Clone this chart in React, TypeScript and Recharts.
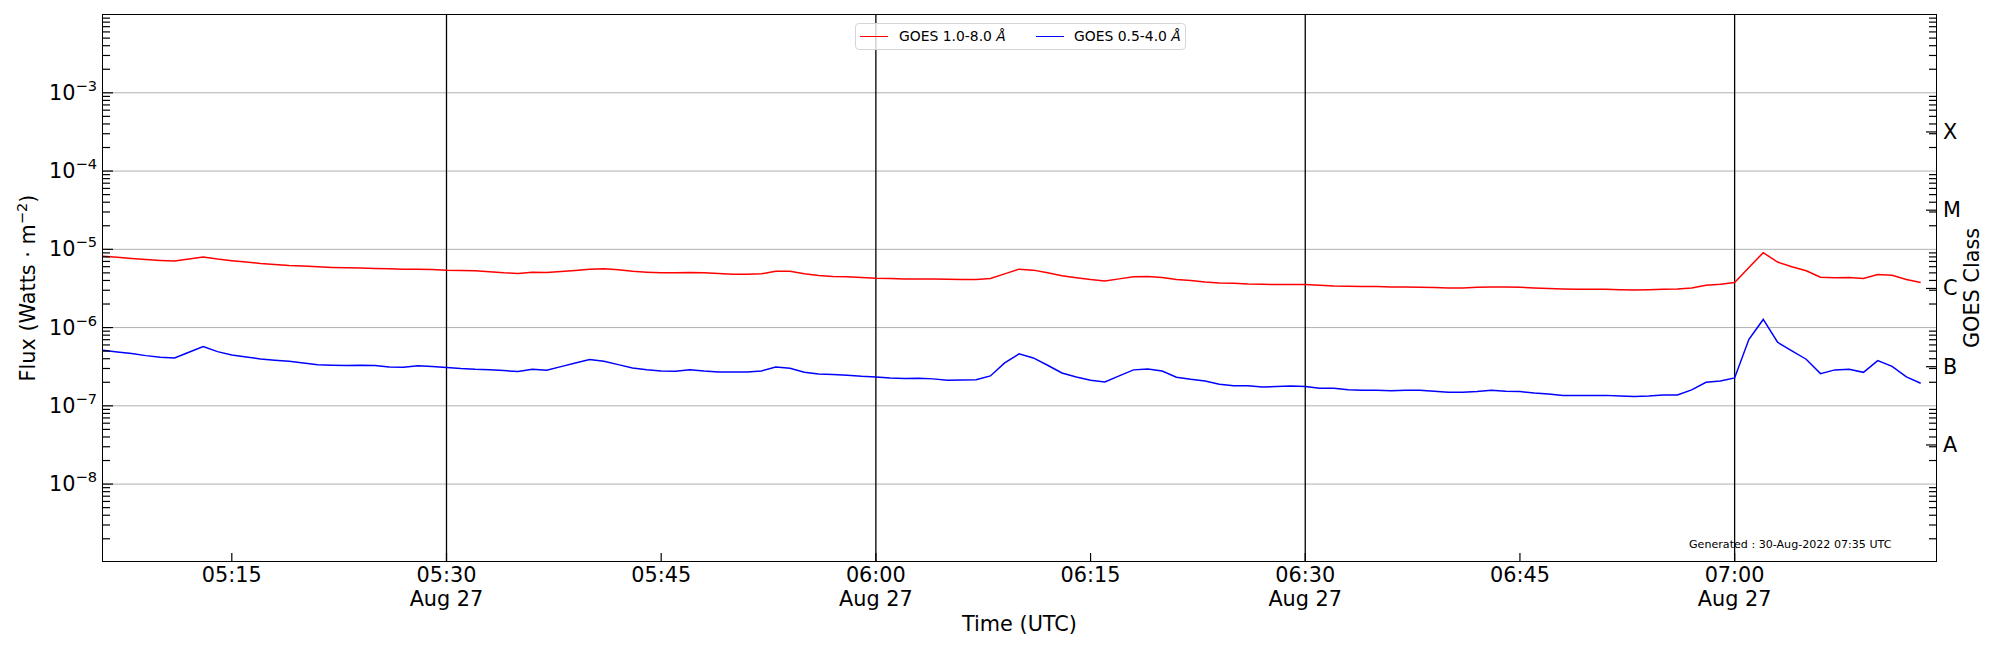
// GoesFluxChart: GOES XRS long/short channel flux on a log axis, with the flare-class scale on the right.
import React from 'react';
import { LineChart, Line, XAxis, YAxis, ReferenceLine } from 'recharts';

// one-minute samples, 05:06 .. 07:13 UTC on Aug 27
const TIMES = [
  '05:06', '05:07', '05:08', '05:09', '05:10', '05:11', '05:12', '05:13', '05:14', '05:15',
  '05:16', '05:17', '05:18', '05:19', '05:20', '05:21', '05:22', '05:23', '05:24', '05:25',
  '05:26', '05:27', '05:28', '05:29', '05:30', '05:31', '05:32', '05:33', '05:34', '05:35',
  '05:36', '05:37', '05:38', '05:39', '05:40', '05:41', '05:42', '05:43', '05:44', '05:45',
  '05:46', '05:47', '05:48', '05:49', '05:50', '05:51', '05:52', '05:53', '05:54', '05:55',
  '05:56', '05:57', '05:58', '05:59', '06:00', '06:01', '06:02', '06:03', '06:04', '06:05',
  '06:06', '06:07', '06:08', '06:09', '06:10', '06:11', '06:12', '06:13', '06:14', '06:15',
  '06:16', '06:17', '06:18', '06:19', '06:20', '06:21', '06:22', '06:23', '06:24', '06:25',
  '06:26', '06:27', '06:28', '06:29', '06:30', '06:31', '06:32', '06:33', '06:34', '06:35',
  '06:36', '06:37', '06:38', '06:39', '06:40', '06:41', '06:42', '06:43', '06:44', '06:45',
  '06:46', '06:47', '06:48', '06:49', '06:50', '06:51', '06:52', '06:53', '06:54', '06:55',
  '06:56', '06:57', '06:58', '06:59', '07:00', '07:01', '07:02', '07:03', '07:04', '07:05',
  '07:06', '07:07', '07:08', '07:09', '07:10', '07:11', '07:12', '07:13',
];

// GOES 1.0-8.0 A, in 1e-6 W m^-2
const LONG_FLUX = [
  8.13, 7.89, 7.66, 7.43, 7.22, 7.08, 7.51, 7.97, 7.51, 7.15,
  6.87, 6.60, 6.41, 6.22, 6.10, 5.98, 5.87, 5.81, 5.75, 5.69,
  5.64, 5.58, 5.58, 5.53, 5.42, 5.37, 5.31, 5.16, 5.01, 4.91,
  5.11, 5.06, 5.21, 5.37, 5.58, 5.64, 5.47, 5.26, 5.11, 5.01,
  5.01, 5.06, 5.01, 4.91, 4.81, 4.81, 4.86, 5.26, 5.26, 4.86,
  4.63, 4.49, 4.45, 4.36, 4.27, 4.23, 4.19, 4.19, 4.19, 4.15,
  4.11, 4.11, 4.23, 4.86, 5.58, 5.42, 5.01, 4.58, 4.32, 4.11,
  3.95, 4.19, 4.45, 4.49, 4.36, 4.11, 3.99, 3.83, 3.72, 3.68,
  3.61, 3.58, 3.54, 3.54, 3.54, 3.47, 3.40, 3.37, 3.34, 3.34,
  3.31, 3.31, 3.27, 3.24, 3.21, 3.21, 3.27, 3.31, 3.31, 3.27,
  3.21, 3.15, 3.12, 3.09, 3.09, 3.09, 3.05, 3.02, 3.05, 3.09,
  3.12, 3.21, 3.47, 3.58, 3.76, 5.87, 9.06, 6.87, 5.98, 5.31,
  4.40, 4.32, 4.36, 4.23, 4.77, 4.67, 4.11, 3.76,
];

// GOES 0.5-4.0 A, in 1e-7 W m^-2
const SHORT_FLUX = [
  5.13, 4.88, 4.65, 4.38, 4.17, 4.09, 4.84, 5.71, 4.93, 4.47,
  4.22, 3.97, 3.82, 3.71, 3.53, 3.36, 3.30, 3.27, 3.30, 3.27,
  3.14, 3.11, 3.24, 3.17, 3.08, 2.99, 2.93, 2.90, 2.82, 2.74,
  2.93, 2.85, 3.17, 3.53, 3.90, 3.71, 3.36, 3.05, 2.90, 2.79,
  2.76, 2.90, 2.79, 2.71, 2.71, 2.71, 2.79, 3.14, 3.02, 2.68,
  2.56, 2.51, 2.46, 2.38, 2.34, 2.27, 2.23, 2.25, 2.21, 2.12,
  2.14, 2.16, 2.41, 3.53, 4.61, 4.09, 3.30, 2.63, 2.34, 2.12,
  2.02, 2.41, 2.88, 2.96, 2.79, 2.32, 2.18, 2.08, 1.89, 1.81,
  1.81, 1.74, 1.76, 1.79, 1.76, 1.68, 1.68, 1.61, 1.58, 1.58,
  1.56, 1.58, 1.58, 1.53, 1.49, 1.49, 1.52, 1.58, 1.53, 1.52,
  1.46, 1.42, 1.36, 1.36, 1.36, 1.36, 1.34, 1.32, 1.34, 1.38,
  1.38, 1.60, 2.00, 2.08, 2.27, 7.09, 12.7, 6.49, 5.03, 3.94,
  2.58, 2.88, 2.93, 2.68, 3.78, 3.20, 2.34, 1.94,
];

const X_TICKS = ['05:15', '05:30', '05:45', '06:00', '06:15', '06:30', '06:45', '07:00'];
const DATE_LABEL = 'Aug 27';
const DAY_LINES = ['05:30', '06:00', '06:30', '07:00'];
const DECADES = [1e-3, 1e-4, 1e-5, 1e-6, 1e-7, 1e-8];
const CLASS_LABELS = ['A', 'B', 'C', 'M', 'X'];
const CLASS_CENTERS = [3.162e-8, 3.162e-7, 3.162e-6, 3.162e-5, 3.162e-4];

const toMin = (hhmm: string) => {
  const [h, m] = hhmm.split(':').map(Number);
  return (h - 5) * 60 + m;
};

const rows = TIMES.map((t, i) => ({
  t: toMin(t),
  long: LONG_FLUX[i] * 1e-6,
  short: SHORT_FLUX[i] * 1e-7,
}));

// geometry of the axes box (px)
const W = 2000, H = 650;
const PLOT_LEFT = 103, PLOT_TOP = 15, PLOT_RIGHT = 1936, PLOT_BOTTOM = 561;
const AXIS_PX = 1; // recharts skips axes of zero size, so each axis gets 1px taken from the margin
const X_DOMAIN: [number, number] = [6, 134.07];
const Y_DOMAIN: [number, number] = [1.04e-9, 9.87e-3];
const FONT = '"DejaVu Sans", sans-serif';
const FS = 20.8; // 15pt at 100 dpi
const FS_SUP = 14.6;

// minor log ticks 2..9 x 10^k inside the domain
const minorTicks: number[] = [];
for (let k = -9; k <= -3; k++) {
  for (let m = 2; m <= 9; m++) {
    const v = m * Math.pow(10, k);
    if (v > Y_DOMAIN[0] && v < Y_DOMAIN[1]) minorTicks.push(v);
  }
}
const isDecade = (v: number) => DECADES.some(d => Math.abs(v - d) / d < 1e-6);

const LeftTick = ({ y, payload }: any) => {
  const v = payload.value as number;
  const major = isDecade(v);
  const exp = Math.round(Math.log10(v));
  return (
    <g>
      <line x1={PLOT_LEFT} x2={PLOT_LEFT + (major ? 10 : 7)} y1={y} y2={y} stroke="#000" strokeWidth={1.2} />
      {major && (
        <text x={PLOT_LEFT - 6} y={y} dy={7} textAnchor="end" fontSize={FS} fontFamily={FONT} fill="#000">
          10<tspan dy={-9} fontSize={FS_SUP}>{'\u2212' + (-exp)}</tspan>
        </text>
      )}
    </g>
  );
};

const RightTick = ({ y, payload }: any) => {
  const v = payload.value as number;
  const ci = CLASS_CENTERS.findIndex(c => Math.abs(v - c) / c < 1e-6);
  return (
    <g>
      <line x1={PLOT_RIGHT} x2={PLOT_RIGHT - (ci >= 0 ? 10 : 7)} y1={y} y2={y} stroke="#000" strokeWidth={1.2} />
      {ci >= 0 && (
        <text x={PLOT_RIGHT + 7} y={y} dy={7} textAnchor="start" fontSize={FS} fontFamily={FONT} fill="#000">
          {CLASS_LABELS[ci]}
        </text>
      )}
    </g>
  );
};

const TimeTick = ({ x, payload }: any) => {
  const label = X_TICKS.find(l => toMin(l) === payload.value) || '';
  const showDate = DAY_LINES.includes(label);
  return (
    <g>
      <line x1={x} x2={x} y1={PLOT_BOTTOM} y2={PLOT_BOTTOM - 8} stroke="#000" strokeWidth={1.2} />
      <text x={x} y={582} textAnchor="middle" fontSize={FS} fontFamily={FONT} fill="#000">{label}</text>
      {showDate && (
        <text x={x} y={606} textAnchor="middle" fontSize={FS} fontFamily={FONT} fill="#000">{DATE_LABEL}</text>
      )}
    </g>
  );
};

const LegendBox: React.FC = () => (
  <div style={{
    position: 'absolute', left: 855, top: 23, width: 331, height: 27, boxSizing: 'border-box',
    border: '1px solid #d6d6d6', borderRadius: 4, background: 'rgba(255,255,255,0.8)',
    fontFamily: FONT, fontSize: 13.9, color: '#000',
  }}>
    <span style={{ position: 'absolute', left: 4, top: 12, width: 28, height: 0, borderTop: '1.5px solid #ff0000' }} />
    <span style={{ position: 'absolute', left: 43, top: 4, lineHeight: '17px', whiteSpace: 'nowrap' }}>GOES 1.0-8.0 <i>Å</i></span>
    <span style={{ position: 'absolute', left: 180, top: 12, width: 28, height: 0, borderTop: '1.5px solid #0000ff' }} />
    <span style={{ position: 'absolute', left: 218, top: 4, lineHeight: '17px', whiteSpace: 'nowrap' }}>GOES 0.5-4.0 <i>Å</i></span>
  </div>
);

export default function App() {
  return (
    <div style={{ position: 'relative', width: W, height: H, background: '#fff', fontFamily: FONT }}>
      <style>{'body{margin:0}'}</style>
      <LineChart
        width={W}
        height={H}
        data={rows}
        margin={{
          top: PLOT_TOP,
          left: PLOT_LEFT - AXIS_PX,
          right: W - PLOT_RIGHT - AXIS_PX,
          bottom: H - PLOT_BOTTOM - AXIS_PX,
        }}
      >
        <XAxis
          dataKey="t" type="number" domain={X_DOMAIN} allowDataOverflow
          ticks={X_TICKS.map(toMin)} interval={0} height={AXIS_PX}
          axisLine={false} tickLine={false} tick={<TimeTick />}
        />
        <YAxis
          yAxisId="left" scale="log" domain={Y_DOMAIN} allowDataOverflow
          ticks={[...DECADES, ...minorTicks]} interval={0} width={AXIS_PX}
          axisLine={false} tickLine={false} tick={<LeftTick />}
        />
        <YAxis
          yAxisId="right" orientation="right" scale="log" domain={Y_DOMAIN} allowDataOverflow
          ticks={[...CLASS_CENTERS, ...minorTicks]} interval={0} width={AXIS_PX}
          axisLine={false} tickLine={false} tick={<RightTick />}
        />
        {DECADES.map(d => (
          <ReferenceLine key={d} yAxisId="left" y={d} stroke="#b0b0b0" strokeWidth={1} />
        ))}
        {DAY_LINES.map(l => (
          <ReferenceLine key={l} yAxisId="left" x={toMin(l)} stroke="#000" strokeWidth={1.3} />
        ))}
        <Line yAxisId="left" type="linear" dataKey="long" name="GOES 1.0-8.0 Å" stroke="#ff0000" strokeWidth={1.5} dot={false} isAnimationActive={false} />
        <Line yAxisId="left" type="linear" dataKey="short" name="GOES 0.5-4.0 Å" stroke="#0000ff" strokeWidth={1.5} dot={false} isAnimationActive={false} />
      </LineChart>

      {/* axes frame */}
      <div style={{
        position: 'absolute', left: PLOT_LEFT - 0.75, top: PLOT_TOP - 0.75,
        width: PLOT_RIGHT - PLOT_LEFT + 1.5, height: PLOT_BOTTOM - PLOT_TOP + 1.5,
        border: '1.5px solid #000', boxSizing: 'border-box', pointerEvents: 'none',
      }} />

      <LegendBox />

      <svg width={W} height={H} style={{ position: 'absolute', left: 0, top: 0, pointerEvents: 'none' }}>
        <text x={(PLOT_LEFT + PLOT_RIGHT) / 2} y={631} textAnchor="middle" fontSize={FS} fontFamily={FONT} fill="#000">Time (UTC)</text>
        <text transform="rotate(-90 28 288)" x={28} y={288} dy={7} textAnchor="middle" fontSize={FS} fontFamily={FONT} fill="#000">
          Flux (Watts · m<tspan dy={-8} fontSize={FS_SUP}>{'\u22122'}</tspan><tspan dy={8}>)</tspan>
        </text>
        <text transform="rotate(-90 1972 288)" x={1972} y={288} dy={7} textAnchor="middle" fontSize={FS} fontFamily={FONT} fill="#000">GOES Class</text>
        <text x={1689} y={548} fontSize={11.1} fontFamily={FONT} fill="#000">Generated : 30-Aug-2022 07:35 UTC</text>
      </svg>
    </div>
  );
}
